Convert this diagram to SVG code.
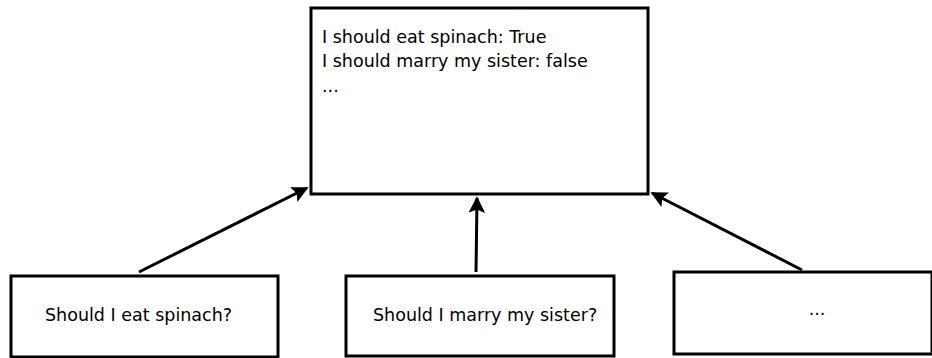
<svg xmlns="http://www.w3.org/2000/svg" width="932" height="358" viewBox="0 0 932 358">
<style>
.box{fill:#fff;stroke:#000;stroke-width:3}
.t{font-family:"DejaVu Sans",sans-serif;font-size:17.5px;fill:#000}
.c{stroke:#000;stroke-width:3;fill:none}
</style>
<defs>
<marker id="ah" viewBox="0 0 10 10" refX="9" refY="5" markerWidth="6.5" markerHeight="5.5" markerUnits="strokeWidth" orient="auto">
<path d="M0,0 L10,5 L0,10 L2,5 z" fill="#000"/>
</marker>
</defs>
<rect width="932" height="358" fill="#fff"/>
<g id="connectors">
<line class="c" x1="139" y1="272" x2="307" y2="188" marker-end="url(#ah)"/>
<line class="c" x1="476" y1="272" x2="477" y2="198" marker-end="url(#ah)"/>
<line class="c" x1="802" y1="270" x2="652" y2="193" marker-end="url(#ah)"/>
</g>
<g id="top">
<rect class="box" x="311" y="8" width="337" height="186"/>
<text class="t" x="322" y="43">I should eat spinach: True</text>
<text class="t" x="322" y="67">I should marry my sister: false</text>
<text class="t" x="322" y="92">...</text>
</g>
<g id="q1">
<rect class="box" x="11" y="276" width="267" height="81"/>
<text class="t" x="45" y="321">Should I eat spinach?</text>
</g>
<g id="q2">
<rect class="box" x="346" y="276" width="268" height="80"/>
<text class="t" x="373" y="321">Should I marry my sister?</text>
</g>
<g id="q3">
<rect class="box" x="674" y="272" width="258" height="82"/>
<text class="t" x="817" y="315" text-anchor="middle">...</text>
</g>
</svg>
